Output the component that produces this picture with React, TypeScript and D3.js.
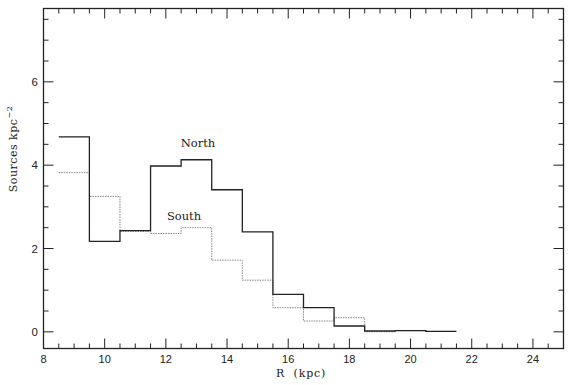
import React from "react";
import * as d3 from "d3";

const binEdges = [8.5, 9.5, 10.5, 11.5, 12.5, 13.5, 14.5, 15.5, 16.5, 17.5, 18.5, 19.5, 20.5, 21.5];
const north = [4.68, 2.17, 2.43, 3.98, 4.13, 3.41, 2.4, 0.9, 0.58, 0.14, 0.02, 0.03, 0.01];
const south = [3.82, 3.25, 2.41, 2.36, 2.5, 1.72, 1.24, 0.58, 0.26, 0.34, 0.0, 0.03, 0.01];
const xTickLabels = [8, 10, 12, 14, 16, 18, 20, 22, 24];
const yTickLabels = [0, 2, 4, 6];

const W = 570, H = 385;
const left = 43.5, right = 563.5, top = 8.5, bottom = 348.5;

export default function App() {
  const x = d3.scaleLinear().domain([8, 25]).range([left, right]);
  const y = d3.scaleLinear().domain([-0.4, 7.76]).range([bottom, top]);

  const stepPts = (vals: number[]) => {
    const pts: [number, number][] = vals.map((v, i) => [binEdges[i], v]);
    pts.push([binEdges[binEdges.length - 1], vals[vals.length - 1]]);
    return pts;
  };
  const line = d3
    .line<[number, number]>()
    .x((d) => x(d[0]))
    .y((d) => y(d[1]))
    .curve(d3.curveStepAfter);

  const xMinor = d3.range(8, 25.01, 0.5);
  const yMinor = d3.range(0, 7.76, 0.5);

  const tickFont = "'Liberation Sans', Arial, sans-serif";
  const serif = "'DejaVu Serif', 'Liberation Serif', serif";

  return (
    <svg width={W} height={H} style={{ position: "absolute", left: 0, top: 0, background: "#fff" }}>
      <rect x={left} y={top} width={right - left} height={bottom - top} fill="none" stroke="#222" strokeWidth={1.3} />
      {xMinor.map((t) => {
        const major = Math.abs(t % 2) < 1e-6;
        const len = major ? 10 : 5;
        return (
          <g key={"x" + t} stroke="#222" strokeWidth={1}>
            <line x1={x(t)} x2={x(t)} y1={bottom} y2={bottom - len} />
            <line x1={x(t)} x2={x(t)} y1={top} y2={top + len} />
          </g>
        );
      })}
      {yMinor.map((t) => {
        const major = Math.abs(t % 2) < 1e-6;
        const len = major ? 10 : 5;
        return (
          <g key={"y" + t} stroke="#222" strokeWidth={1}>
            <line x1={left} x2={left + len} y1={y(t)} y2={y(t)} />
            <line x1={right} x2={right - len} y1={y(t)} y2={y(t)} />
          </g>
        );
      })}
      {xTickLabels.map((t) => (
        <text key={"xl" + t} x={x(t)} y={363} textAnchor="middle" fontFamily={tickFont} fontSize={11} fill="#222">
          {t}
        </text>
      ))}
      {yTickLabels.map((t) => (
        <text key={"yl" + t} x={38} y={y(t) + 4} textAnchor="end" fontFamily={tickFont} fontSize={11.5} fill="#222">
          {t}
        </text>
      ))}
      <text x={301} y={377} textAnchor="middle" fontFamily={serif} fontSize={11} fill="#222" xmlSpace="preserve" letterSpacing={0.8}>
        R  (kpc)
      </text>
      <text
        transform={`translate(17,149) rotate(-90)`}
        textAnchor="middle"
        fontFamily={serif}
        fontSize={11}
        fill="#222"
        letterSpacing={0.5}
      >
        Sources kpc
        <tspan dy={-5} fontSize={8}>−2</tspan>
      </text>
      <path d={line(stepPts(south)) || ""} fill="none" stroke="#888" strokeWidth={1} strokeDasharray="1.5,1" />
      <path d={line(stepPts(north)) || ""} fill="none" stroke="#222" strokeWidth={1.3} />
      <text x={198} y={147} textAnchor="middle" fontFamily={serif} fontSize={11.5} fill="#222">North</text>
      <text x={184} y={220} textAnchor="middle" fontFamily={serif} fontSize={11.5} fill="#222">South</text>
    </svg>
  );
}
